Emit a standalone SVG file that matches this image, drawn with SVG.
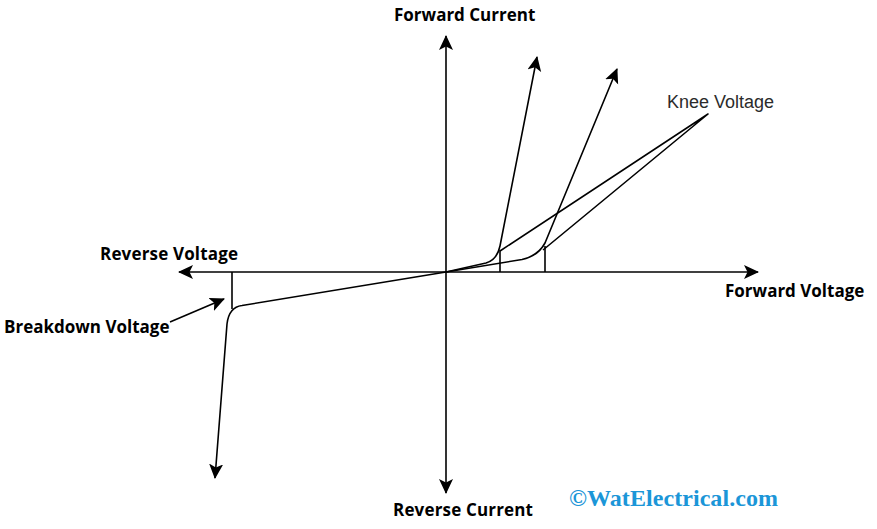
<svg xmlns="http://www.w3.org/2000/svg" width="877" height="529" viewBox="0 0 877 529">
<style>
.c{fill:none;stroke:#000;stroke-width:1.6;stroke-linejoin:round}
.a{marker-end:url(#arrow)}
.t{font-family:"Open Sans","Noto Sans","Liberation Sans",sans-serif;font-size:17px;font-weight:700;fill:#000}
.k{font-family:"Liberation Sans",Arial,sans-serif;font-size:18px;fill:#2b2b2b}
.w{font-family:"Liberation Serif","Times New Roman",serif;font-size:24px;font-weight:700;fill:#1b96d8}
</style>
<defs>
<marker id="arrow" markerUnits="userSpaceOnUse" markerWidth="17" markerHeight="15" refX="14" refY="7" orient="auto" viewBox="0 0 17 15">
<path d="M0 0L15 7L0 14L3.500 7Z" fill="#000"/>
</marker>
</defs>
<rect width="877" height="529" fill="#fff"/>
<g id="connectors">
<path class="c a" d="M446 272V36"/>
<path class="c a" d="M446 272V493"/>
<path class="c a" d="M446 272H758"/>
<path class="c a" d="M446 272H179"/>
<path class="c a" d="M446 272L486 263Q497 260 500 246L537 57"/>
<path class="c a" d="M446 272L522 259.500Q538 256 545 243L617 69"/>
<path class="c a" d="M446 272L242 305.500Q229 307 227 324L215 478"/>
<path class="c" d="M500 272V250"/>
<path class="c" d="M545 272V246"/>
<path class="c" d="M232 272V309"/>
<path class="c" d="M500 251L708 114L543 250"/>
<path class="c a" d="M170 322L224 299"/>
</g>
<g id="forward-current"><text class="t" x="394" y="21">Forward Current</text></g>
<g id="reverse-current"><text class="t" x="393" y="516" textLength="140">Reverse Current</text></g>
<g id="reverse-voltage"><text class="t" x="100" y="260" textLength="138">Reverse Voltage</text></g>
<g id="forward-voltage"><text class="t" x="725" y="297">Forward Voltage</text></g>
<g id="breakdown-voltage"><text class="t" x="4" y="333">Breakdown Voltage</text></g>
<g id="knee-voltage"><text class="k" x="667" y="108">Knee Voltage</text></g>
<g id="watermark"><text class="w" x="569" y="506" textLength="209">©WatElectrical.com</text></g>
</svg>
